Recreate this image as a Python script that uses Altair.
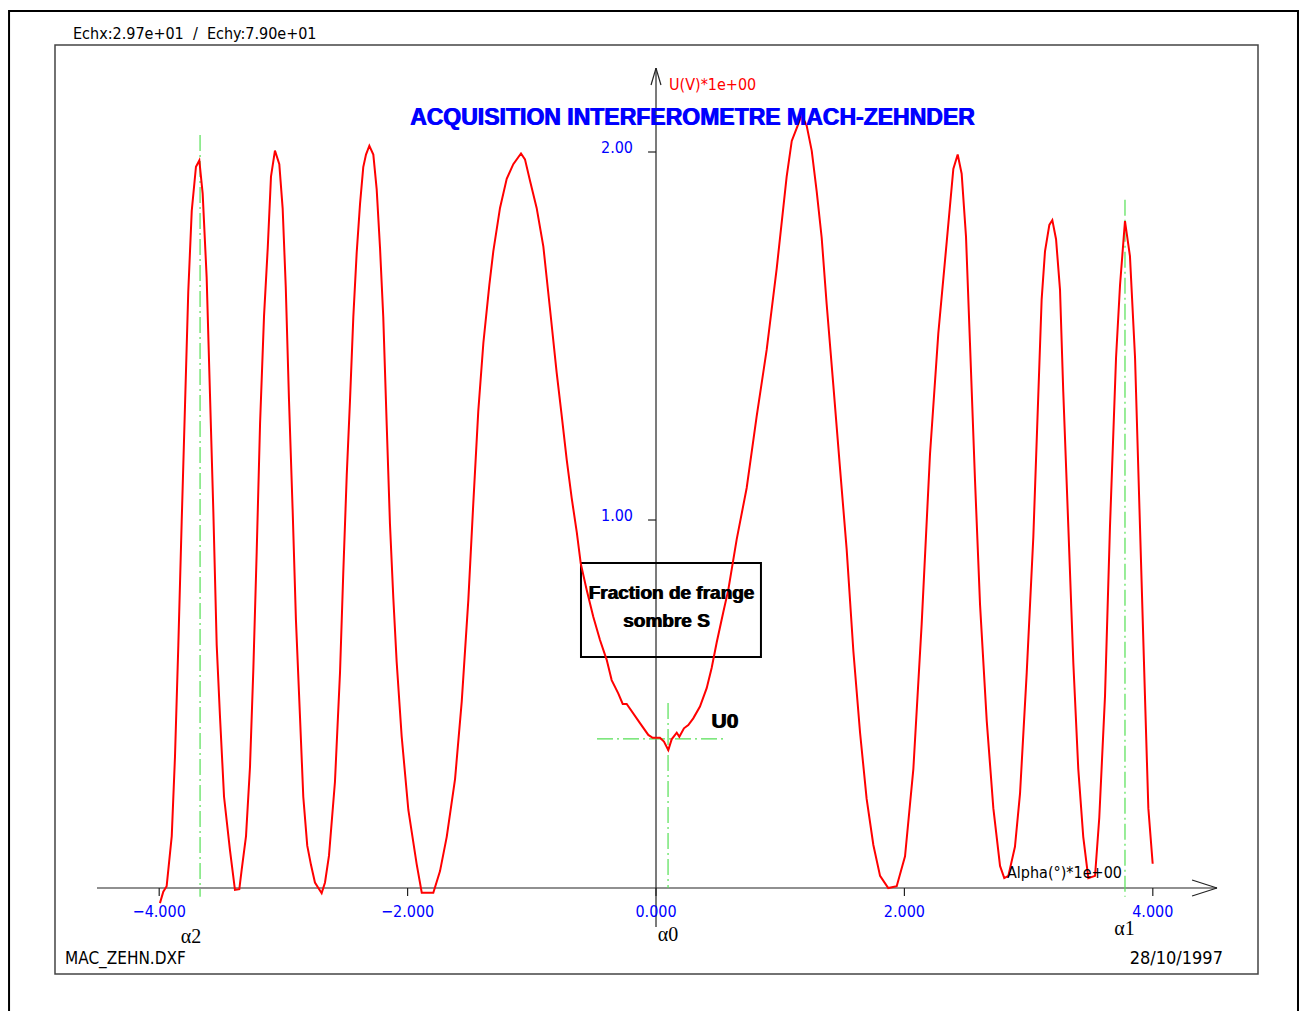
import altair as alt
import pandas as pd

# ---- measured signal: Alpha (deg) and U (V) ----
ALPHA = [-3.994, -3.967, -3.940, -3.899, -3.873, -3.846, -3.819, -3.792, -3.766, -3.738,
         -3.704, -3.677, -3.650, -3.618, -3.591, -3.564, -3.537, -3.510, -3.478, -3.430,
         -3.390, -3.355, -3.336, -3.301, -3.269, -3.242, -3.215, -3.188, -3.156, -3.126,
         -3.100, -3.068, -3.033, -3.006, -2.981, -2.955, -2.925, -2.899, -2.866, -2.840,
         -2.808, -2.778, -2.746, -2.692, -2.665, -2.633, -2.585, -2.544, -2.518, -2.490,
         -2.464, -2.437, -2.410, -2.383, -2.357, -2.335, -2.308, -2.276, -2.249, -2.222,
         -2.196, -2.168, -2.142, -2.115, -2.088, -2.048, -1.994, -1.927, -1.886, -1.793,
         -1.739, -1.685, -1.618, -1.564, -1.511, -1.471, -1.431, -1.390, -1.342, -1.310,
         -1.256, -1.202, -1.149, -1.087, -1.055, -1.014, -0.961, -0.907, -0.853, -0.800,
         -0.759, -0.719, -0.679, -0.638, -0.606, -0.558, -0.505, -0.451, -0.397, -0.357,
         -0.304, -0.268, -0.236, -0.129, -0.062, -0.027, 0.032, 0.064, 0.099, 0.126,
         0.167, 0.188, 0.225, 0.260, 0.300, 0.354, 0.408, 0.448, 0.489, 0.542,
         0.582, 0.650, 0.730, 0.811, 0.891, 0.972, 1.052, 1.093, 1.133, 1.173,
         1.213, 1.254, 1.294, 1.334, 1.374, 1.428, 1.481, 1.535, 1.589, 1.643,
         1.696, 1.750, 1.804, 1.870, 1.938, 2.005, 2.072, 2.139, 2.206, 2.273,
         2.341, 2.394, 2.429, 2.461, 2.496, 2.528, 2.568, 2.609, 2.663, 2.716,
         2.770, 2.804, 2.837, 2.890, 2.931, 2.985, 3.038, 3.105, 3.132, 3.167,
         3.191, 3.221, 3.253, 3.279, 3.320, 3.360, 3.400, 3.440, 3.481, 3.535,
         3.569, 3.615, 3.655, 3.704, 3.736, 3.776, 3.816, 3.857, 3.897, 3.937,
         3.964, 3.999]
U = [-0.041, -0.010, 0.005, 0.141, 0.356, 0.660, 0.995, 1.314, 1.620, 1.840,
     1.960, 1.977, 1.887, 1.660, 1.340, 1.022, 0.660, 0.462, 0.248, 0.102,
     -0.005, -0.003, 0.049, 0.141, 0.329, 0.595, 0.914, 1.261, 1.554, 1.740,
     1.933, 2.004, 1.967, 1.847, 1.633, 1.327, 1.021, 0.728, 0.462, 0.248,
     0.115, 0.063, 0.015, -0.014, 0.015, 0.088, 0.288, 0.587, 0.856, 1.122,
     1.323, 1.552, 1.726, 1.859, 1.959, 1.993, 2.017, 1.993, 1.899, 1.739,
     1.552, 1.257, 0.989, 0.788, 0.614, 0.413, 0.212, 0.065, -0.013, -0.013,
     0.046, 0.139, 0.296, 0.507, 0.783, 1.046, 1.296, 1.481, 1.638, 1.730,
     1.848, 1.927, 1.967, 1.996, 1.980, 1.921, 1.848, 1.743, 1.572, 1.401,
     1.283, 1.164, 1.060, 0.967, 0.882, 0.810, 0.737, 0.674, 0.620, 0.565,
     0.529, 0.500, 0.500, 0.448, 0.416, 0.408, 0.408, 0.398, 0.375, 0.404,
     0.422, 0.411, 0.434, 0.443, 0.461, 0.493, 0.543, 0.598, 0.668, 0.750,
     0.810, 0.948, 1.087, 1.283, 1.462, 1.684, 1.933, 2.030, 2.065, 2.100,
     2.072, 2.003, 1.892, 1.767, 1.587, 1.365, 1.143, 0.921, 0.644, 0.422,
     0.242, 0.117, 0.033, 0.000, 0.005, 0.086, 0.323, 0.717, 1.178, 1.507,
     1.757, 1.954, 1.993, 1.941, 1.770, 1.480, 1.112, 0.770, 0.454, 0.217,
     0.060, 0.027, 0.033, 0.112, 0.257, 0.586, 0.954, 1.599, 1.730, 1.802,
     1.815, 1.763, 1.625, 1.349, 0.980, 0.612, 0.323, 0.139, 0.027, 0.033,
     0.191, 0.520, 0.980, 1.441, 1.638, 1.812, 1.717, 1.441, 0.980, 0.520,
     0.217, 0.066]

XTICK_VALUES = [-4.0, -2.0, 0.0, 2.0, 4.0]
XTICK_LABELS = ["\u22124.000", "\u22122.000", "0.000", "2.000", "4.000"]
YTICK_VALUES = [1.0, 2.0]
YTICK_LABELS = ["1.00", "2.00"]

ALPHA2, ALPHA0, ALPHA1 = -3.671, 0.097, 3.776   # marked angles
U0 = 0.405                                       # marked voltage

TITLE = "ACQUISITION INTERFEROMETRE MACH-ZEHNDER"
HEADER = "Echx:2.97e+01\u00a0\u00a0/\u00a0\u00a0Echy:7.90e+01"

# ---- layout ----
W, H = 1291, 1003
XMIN, XMAX = -5.2174, 5.1771
YMIN, YMAX = -0.3342, 2.3913

CAD = "DejaVu Sans Condensed, Liberation Sans Narrow, Liberation Sans, sans-serif"
BOLD = "Liberation Sans, Arial, sans-serif"
SERIF = "Liberation Serif, DejaVu Serif, serif"
BLUE = "#0000ff"
RED = "#ff0000"
GREEN = "#55e055"

xs = alt.Scale(domain=[XMIN, XMAX], nice=False, zero=False)
ys = alt.Scale(domain=[YMIN, YMAX], nice=False, zero=False)


def X(f):
    return alt.X(f + ":Q", scale=xs, axis=None)


def Y(f):
    return alt.Y(f + ":Q", scale=ys, axis=None)


def segs(rows, **mk):
    df = pd.DataFrame(rows, columns=["x", "y", "x2", "y2"])
    return alt.Chart(df).mark_rule(**mk).encode(x=X("x"), y=Y("y"), x2="x2:Q", y2="y2:Q")


def box(rows, **mk):
    df = pd.DataFrame(rows, columns=["x", "y", "x2", "y2"])
    return alt.Chart(df).mark_rect(fillOpacity=0, **mk).encode(x=X("x"), y=Y("y"), x2="x2:Q", y2="y2:Q")


def txt(rows, **mk):
    df = pd.DataFrame(rows, columns=["x", "y", "t"])
    return alt.Chart(df).mark_text(**mk).encode(x=X("x"), y=Y("y"), text="t:N")


layers = []
# frames
layers.append(box([(-5.209, 2.383, 5.169, YMIN - 0.2)], stroke="black", strokeWidth=2))
layers.append(box([(-4.839, 2.291, 4.847, -0.2337)], stroke="#444444", strokeWidth=1.5))

# axes with arrows
layers.append(segs([
    (-4.501, 0.0, 4.517, 0.0),
    (4.517, 0.0, 4.316, 0.0217),
    (4.517, 0.0, 4.316, -0.0217),
    (0.0, -0.106, 0.0, 2.228),
    (0.0, 2.228, -0.040, 2.182),
    (0.0, 2.228, 0.040, 2.182),
], color="#222222", strokeWidth=1.2))
layers.append(segs([(v, 0.0, v, -0.0217) for v in XTICK_VALUES] +
                   [(-0.064, v, 0.0, v) for v in YTICK_VALUES],
                   color="#222222", strokeWidth=1.2))

# green construction lines
layers.append(segs([
    (ALPHA2, 2.046, ALPHA2, -0.024),
    (ALPHA1, 1.870, ALPHA1, -0.024),
    (ALPHA0, 0.503, ALPHA0, 0.0),
    (-0.475, U0, 0.548, U0),
], color=GREEN, strokeWidth=1.2, strokeDash=[16, 4, 2, 4]))

# annotation box
layers.append(box([(-0.604, 0.883, 0.845, 0.628)], stroke="black", strokeWidth=2))

# signal
curve = pd.DataFrame({"a": ALPHA, "u": U, "i": list(range(len(ALPHA)))})
layers.append(alt.Chart(curve).mark_line(color=RED, strokeWidth=2).encode(
    x=X("a"), y=Y("u"), order="i:Q"))

# tick labels
layers.append(txt([(v, -0.065, l) for v, l in zip(XTICK_VALUES, XTICK_LABELS)],
                  font=CAD, fontSize=16, color=BLUE, align="center", baseline="middle"))
layers.append(txt([(-0.185, v + 0.011, l) for v, l in zip(YTICK_VALUES, YTICK_LABELS)],
                  font=CAD, fontSize=16, color=BLUE, align="right", baseline="middle"))

# texts
layers.append(txt([(-4.694, 2.322, HEADER)], font=CAD, fontSize=16, color="black",
                  align="left", baseline="middle"))
layers.append(txt([(0.105, 2.182, "U(V)*1e+00")], font=CAD, fontSize=16, color=RED,
                  align="left", baseline="middle"))
layers.append(txt([(2.826, 0.041, "Alpha(\u00b0)*1e+00")], font=CAD, fontSize=16, color="black",
                  align="left", baseline="middle"))
layers.append(txt([(-4.758, -0.192, "MAC_ZEHN.DXF")], font=CAD, fontSize=17, color="black",
                  align="left", baseline="middle"))
layers.append(txt([(4.565, -0.192, "28/10/1997")], font=CAD, fontSize=18, color="black",
                  align="right", baseline="middle"))
layers.append(txt([(-3.744, -0.134, "\u03b12"), (ALPHA0, -0.128, "\u03b10"), (3.772, -0.111, "\u03b11")],
                  font=SERIF, fontSize=20, color="black", align="center", baseline="middle"))
for dx in (0, 1):
    layers.append(txt([(0.290, 2.092, TITLE)], font=BOLD, fontSize=23, fontWeight="bold", color=BLUE,
                      align="center", baseline="middle", dx=dx))
    layers.append(txt([(0.121, 0.802, "Fraction de frange"), (0.081, 0.726, "sombre S")],
                      font=BOLD, fontSize=19, fontWeight="bold", color="black",
                      align="center", baseline="middle", dx=dx))
    layers.append(txt([(0.443, 0.451, "U0")], font=BOLD, fontSize=21, fontWeight="bold", color="black",
                      align="left", baseline="middle", dx=dx))

chart = alt.layer(*layers).properties(
    width=W, height=H,
    autosize=alt.AutoSizeParams(type="none"),
    padding=0,
    background="white",
).configure_view(stroke=None)

chart.save("out.html", embed_options={"renderer": "svg", "actions": False})
